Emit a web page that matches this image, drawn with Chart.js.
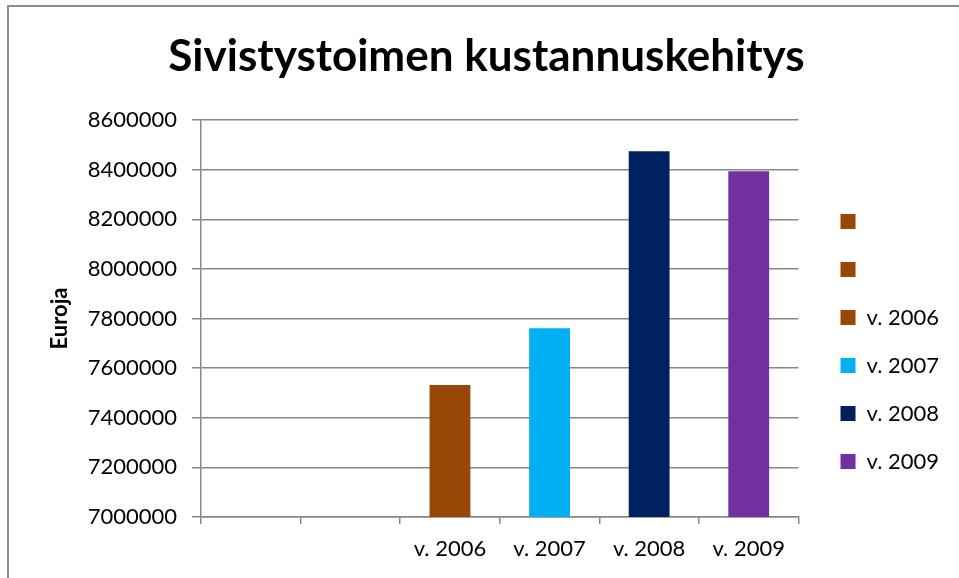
<!DOCTYPE html>
<html>
<head>
<meta charset="utf-8">
<title>Sivistystoimen kustannuskehitys</title>
<script src="https://cdn.jsdelivr.net/npm/chart.js@4"></script>
<style>
  html, body { margin: 0; padding: 0; background: #fff; overflow: hidden; }
  .frame {
    position: absolute; left: 7px; top: 5px; width: 952px; height: 573px;
    border-left: 2px solid #8c8c8c; border-top: 2px solid #8c8c8c;
  }
  #myChart { position: absolute; left: 0; top: 0; }
</style>
</head>
<body>
<div class="frame">
  <canvas id="myChart" width="950" height="571"></canvas>
</div>
<script>
// data
var xValues = ["", "", "v. 2006", "v. 2007", "v. 2008", "v. 2009"];
var yValues = [null, null, 7532000, 7761000, 8474000, 8393000];
var barColors = ["#974806", "#974806", "#974806", "#00b0f0", "#002060", "#7030a0"];
var yTicks = [7000000, 7200000, 7400000, 7600000, 7800000, 8000000, 8200000, 8400000, 8600000];

var gridColor = "#878787";
Chart.defaults.font.family = "Lato, 'Open Sans', sans-serif";
Chart.defaults.color = "#000";

new Chart("myChart", {
  type: "bar",
  data: {
    labels: xValues,
    datasets: [{
      backgroundColor: barColors,
      data: yValues,
      barPercentage: 0.41,
      categoryPercentage: 1
    }]
  },
  options: {
    responsive: false,
    animation: false,
    layout: { padding: { left: 15, right: 10, top: 0, bottom: 15 } },
    plugins: {
      tooltip: { enabled: false },
      title: {
        display: true,
        text: "Sivistystoimen kustannuskehitys",
        font: { size: 44, weight: "bold" },
        padding: { top: 23.6, bottom: 36.6 }
      },
      legend: {
        position: "right",
        onClick: null,
        // empty title only pushes the entries down
        title: { display: true, text: "", font: { size: 10 }, padding: { top: 101, bottom: 0 } },
        labels: {
          boxWidth: 15,
          boxHeight: 15,
          padding: 26,
          font: { size: 22 },
          generateLabels: function () {
            return xValues.map(function (lbl, i) {
              return { text: lbl, fillStyle: barColors[i], strokeStyle: barColors[i], lineWidth: 0, index: i };
            });
          }
        }
      }
    },
    scales: {
      x: {
        afterFit: function (s) { s.height = 46; },
        grid: { drawOnChartArea: false, drawTicks: true, tickLength: 7, color: gridColor, lineWidth: 1.5 },
        border: { color: gridColor, width: 1.5 },
        ticks: { font: { size: 22 }, padding: 12, maxRotation: 0, autoSkip: false }
      },
      y: {
        min: 7000000,
        max: 8600000,
        afterFit: function (s) { s.width = 177; },
        afterBuildTicks: function (s) { s.ticks = yTicks.map(function (v) { return { value: v }; }); },
        grid: { color: gridColor, lineWidth: 1.5, tickLength: 9 },
        border: { color: gridColor, width: 1.5 },
        ticks: { font: { size: 22 }, padding: 15, callback: function (v) { return String(v); } },
        title: { display: true, text: "Euroja", font: { size: 22, weight: "bold" }, padding: { top: 23, bottom: 0 } }
      },
      gap: {
        position: "right",
        type: "linear",
        display: true,
        afterFit: function (s) { s.width = 16; },
        grid: { display: false },
        border: { display: false },
        ticks: { display: false }
      }
    }
  }
});
</script>
</body>
</html>
